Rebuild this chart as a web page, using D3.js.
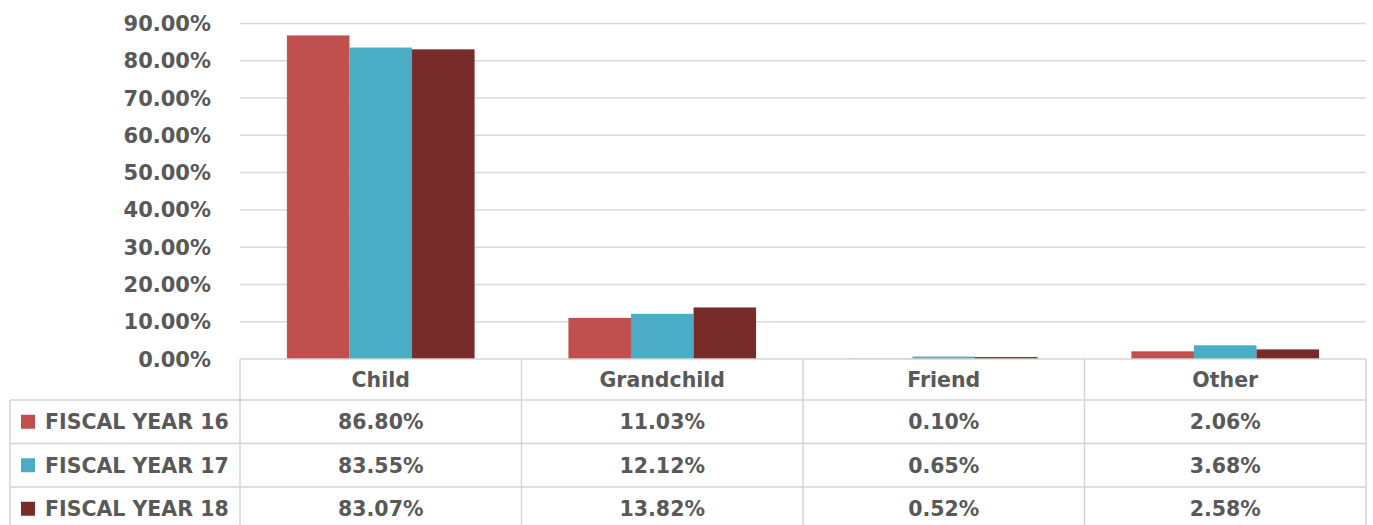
<!DOCTYPE html>
<html>
<head>
<meta charset="utf-8">
<script src="https://cdn.jsdelivr.net/npm/d3@7"></script>
<style>
  body { margin: 0; background: #fff; }
  text { font-family: "DejaVu Sans", sans-serif; font-weight: bold; fill: #595959; }
</style>
</head>
<body>
<div id="chart"></div>
<script>
const categories = ["Child", "Grandchild", "Friend", "Other"];
const seriesNames = ["FISCAL YEAR 16", "FISCAL YEAR 17", "FISCAL YEAR 18"];
const fy16 = [0.8680, 0.1103, 0.0010, 0.0206];
const fy17 = [0.8355, 0.1212, 0.0065, 0.0368];
const fy18 = [0.8307, 0.1382, 0.0052, 0.0258];
const colors = ["#C0504D", "#4BACC6", "#772C2A"];
const yTicks = [0, 0.1, 0.2, 0.3, 0.4, 0.5, 0.6, 0.7, 0.8, 0.9];

const width = 1373, height = 525;
const series = [fy16, fy17, fy18];

const svg = d3.select("#chart").append("svg")
  .attr("width", width)
  .attr("height", height);

const x = d3.scaleBand().domain(categories).range([240, 1366]);
const bw = x.bandwidth();
const x1 = d3.scaleBand().domain(seriesNames).range([bw / 6, bw * 5 / 6]);
const y = d3.scaleLinear().domain([0, 0.9]).range([359, 23.5]);

// gridlines
svg.append("g").selectAll("line")
  .data(yTicks.slice(1))
  .join("line")
  .attr("x1", 240).attr("x2", 1366)
  .attr("y1", d => y(d)).attr("y2", d => y(d))
  .attr("stroke", "#d9d9d9")
  .attr("stroke-width", 1.5);

// y tick labels
svg.append("g").selectAll("text")
  .data(yTicks)
  .join("text")
  .attr("x", 211)
  .attr("y", d => y(d))
  .attr("dy", "0.36em")
  .attr("text-anchor", "end")
  .style("font-size", "21px")
  .text(d => d3.format(".2%")(d));

// bars
series.forEach((vals, si) => {
  svg.append("g").selectAll("rect")
    .data(categories)
    .join("rect")
    .attr("x", c => x(c) + x1(seriesNames[si]))
    .attr("width", x1.bandwidth())
    .attr("y", (c, i) => y(vals[i]))
    .attr("height", (c, i) => y(0) - y(vals[i]))
    .attr("fill", colors[si]);
});

// data table
const rowTop = [359, 400, 443.5, 487, 530.5];
const grid = svg.append("g").attr("stroke", "#d4d4d4").attr("stroke-width", 1.5);
grid.append("line").attr("x1", 240).attr("x2", 1366).attr("y1", rowTop[0]).attr("y2", rowTop[0]);
rowTop.slice(1).forEach(ry => {
  grid.append("line").attr("x1", 10).attr("x2", 1366).attr("y1", ry).attr("y2", ry);
});
grid.append("line").attr("x1", 10).attr("x2", 10).attr("y1", rowTop[1]).attr("y2", height);
categories.concat([null]).forEach((c, i) => {
  const xx = c ? x(c) : x(categories[categories.length - 1]) + bw;
  grid.append("line").attr("x1", xx).attr("x2", xx).attr("y1", rowTop[0]).attr("y2", height);
});

// header row
svg.append("g").selectAll("text")
  .data(categories)
  .join("text")
  .attr("x", c => x(c) + bw / 2)
  .attr("y", (rowTop[0] + rowTop[1]) / 2)
  .attr("dy", "0.36em")
  .attr("text-anchor", "middle")
  .style("font-size", "20.5px")
  .text(c => c);

// value rows
series.forEach((vals, si) => {
  const cy = (rowTop[si + 1] + rowTop[si + 2]) / 2;
  const row = svg.append("g");
  row.append("rect")
    .attr("x", 21).attr("y", cy - 7)
    .attr("width", 14).attr("height", 14)
    .attr("fill", colors[si]);
  row.append("text")
    .attr("x", 45).attr("y", cy).attr("dy", "0.36em")
    .style("font-size", "20.5px")
    .text(seriesNames[si]);
  row.selectAll("text.v")
    .data(categories)
    .join("text")
    .attr("class", "v")
    .attr("x", c => x(c) + bw / 2)
    .attr("y", cy)
    .attr("dy", "0.36em")
    .attr("text-anchor", "middle")
    .style("font-size", "20.5px")
    .text((c, i) => d3.format(".2%")(vals[i]));
});
</script>
</body>
</html>
